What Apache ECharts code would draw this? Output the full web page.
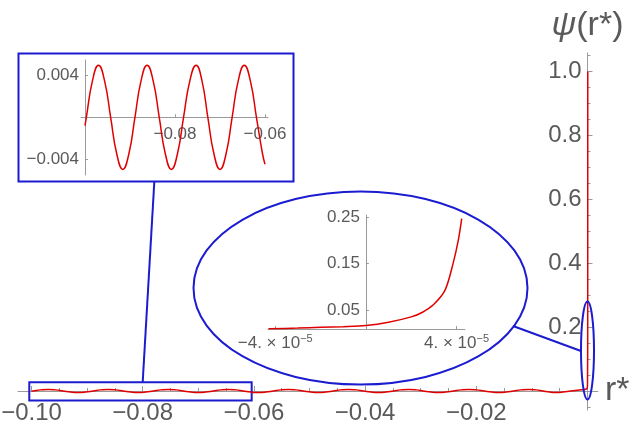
<!DOCTYPE html>
<html>
<head>
<meta charset="utf-8">
<script src="https://cdn.jsdelivr.net/npm/echarts@6/dist/echarts.min.js"></script>
<style>html,body{margin:0;padding:0;background:#fff}#c{width:640px;height:426px}</style>
</head>
<body>
<div id="c"></div>
<script>
// Main curve psi(r*): small oscillation for r* < 0, then steep rise at r* ~ 0
const mainX = [
  -0.1000, -0.0997, -0.09835, -0.0970, -0.09565, -0.0943, -0.09295, -0.0916, -0.09025,
  -0.0889, -0.08755, -0.0862, -0.08485, -0.0835, -0.08215, -0.0808, -0.07945,
  -0.0781, -0.0767, -0.0753, -0.0740, -0.0727, -0.07135, -0.0700, -0.06865,
  -0.0673, -0.06595, -0.0646, -0.06325, -0.0619, -0.06055, -0.0600, -0.0592, -0.05785,
  -0.0565, -0.05515, -0.0538, -0.05245, -0.0511, -0.04975, -0.0484, -0.04705,
  -0.0457, -0.04435, -0.0430, -0.04165, -0.0403, -0.03895, -0.0376, -0.03625,
  -0.0349, -0.03355, -0.0321, -0.03075, -0.0295, -0.02815, -0.0268, -0.02545,
  -0.0241, -0.02275, -0.0213, -0.01995, -0.0186, -0.01725, -0.0160, -0.01465,
  -0.0133, -0.01195, -0.0106, -0.00925, -0.0080, -0.0068, -0.0058, -0.0044,
  -0.0030, -0.0015, -0.0002, 0.0, 0.00004, 0.00005
];
const mainY = [
  -0.0008, 0.0, 0.0035, 0.005, 0.0035, 0.0, -0.0035, -0.005, -0.0035,
  0.0, 0.0035, 0.005, 0.0035, 0.0, -0.0035, -0.005, -0.0035,
  0.0, 0.0035, 0.005, 0.0035, 0.0, -0.0035, -0.005, -0.0035,
  0.0, 0.0035, 0.005, 0.0035, 0.0, -0.0035, -0.0045, -0.005, -0.0035,
  0.0, 0.0035, 0.005, 0.0035, 0.0, -0.0035, -0.005, -0.0035,
  0.0, 0.0035, 0.005, 0.0035, 0.0, -0.0035, -0.005, -0.0035,
  0.0, 0.0035, 0.005, 0.0035, 0.0, -0.0035, -0.005, -0.0035,
  0.0, 0.0035, 0.005, 0.0035, 0.0, -0.0035, -0.005, -0.0035,
  0.0, 0.0035, 0.005, 0.0035, 0.0, -0.0035, -0.005, -0.0035,
  0.0, 0.003, 0.006, 0.015, 0.22, 1.0
];
// Zoomed region near r* = 0
const zoomX = [-4.3e-5, -3e-5, -2e-5, -1e-5, 0, 1e-5, 2e-5, 2.5e-5, 3e-5, 3.5e-5, 3.85e-5, 4.08e-5, 4.23e-5];
const zoomY = [0.0095, 0.011, 0.0125, 0.014, 0.0165, 0.0235, 0.035, 0.045, 0.062, 0.093, 0.15, 0.20, 0.246];

// Tick labels
const mainXLabels = [-0.10, -0.08, -0.06, -0.04, -0.02];
const mainYLabels = [0.2, 0.4, 0.6, 0.8, 1.0];
const inset1XLabels = [-0.08, -0.06];
const inset1YLabels = [-0.004, 0.004];
const inset2XLabels = [-4e-5, 4e-5];
const inset2YLabels = [0.05, 0.15, 0.25];

const mainXMinor = [];
for (let i = -20; i <= 0; i++) mainXMinor.push(+(i * 0.005).toFixed(3));
const mainXMajor = [-0.10, -0.08, -0.06, -0.04, -0.02, 0];
const mainYMinor = [];
for (let i = -1; i <= 21; i++) mainYMinor.push(+(i * 0.05).toFixed(2));
const mainYMajor = [0, 0.2, 0.4, 0.6, 0.8, 1.0];

const FONT = 'Liberation Sans';
const TXT = '#5a5a5a';
const AX = '#9a9a9a';
const RED = '#e00000';
const BLUE = '#1b1bd0';
const minus = s => s.replace('-', '\u2212');

const mainData = mainX.map((x, i) => [x, mainY[i]]);
const inset1Data = mainData.filter(p => p[0] <= -0.06 + 1e-9);
const inset2Data = zoomX.map((x, i) => [x, zoomY[i]]);

const MX = [-0.10243, 0.00189], MY = [-0.0595, 1.058];
const AX1 = [-0.10089, -0.05933], AY1 = [-0.00554, 0.0055];
const AX2 = [-4.32e-5, 4.375e-5], AY2 = [0.009, 0.254];

const hidden = (gi) => ({type: 'value', gridIndex: gi, show: false, min: 0, max: 1});
const lbl = (fs) => ({fontSize: fs, fontFamily: FONT, color: TXT});
const OB = {outerBoundsMode: 'none', containLabel: false};

const option = {
  animation: false,
  backgroundColor: '#fff',
  grid: [
    Object.assign({left: 18, right: 42, top: 53, bottom: 16}, OB),          // 0 main
    Object.assign({left: 81, width: 187, top: 60, height: 115}, OB),        // 1 inset 1
    Object.assign({left: 268, width: 197, top: 215, height: 114}, OB),      // 2 inset 2
    Object.assign({left: 18, right: 42, top: 53, bottom: 35}, OB),          // 3 main x labels
    Object.assign({left: 587.5, right: 42, top: 53, bottom: 16}, OB),       // 4 main y labels
    Object.assign({left: 81, width: 187, top: 60, height: 57.3}, OB),       // 5 inset1 x labels
    Object.assign({left: 366, width: 99, top: 215, height: 114}, OB)        // 6 inset2 y labels
  ],
  xAxis: [
    {type: 'value', gridIndex: 0, min: MX[0], max: MX[1],
     axisLine: {show: true, onZero: true, onZeroAxisIndex: 0, lineStyle: {color: AX, width: 1}},
     axisTick: {show: true, inside: true, length: 3, customValues: mainXMinor, lineStyle: {color: AX}},
     axisLabel: {show: false}, splitLine: {show: false},
     name: 'r*', nameLocation: 'end', nameGap: 7, nameMoveOverlap: false,
     nameTextStyle: {fontSize: 34, fontFamily: FONT, color: TXT, verticalAlign: 'middle', padding: [8, 0, 0, 0]}},
    {type: 'value', gridIndex: 0, min: MX[0], max: MX[1], position: 'top',
     axisLine: {show: false, onZero: true, onZeroAxisIndex: 0},
     axisTick: {show: true, length: 5, customValues: mainXMajor, lineStyle: {color: AX}},
     axisLabel: {show: false}, splitLine: {show: false}},
    {type: 'value', gridIndex: 1, min: AX1[0], max: AX1[1],
     axisLine: {show: true, onZero: true, lineStyle: {color: AX, width: 1}},
     axisTick: {show: true, inside: true, length: 3, customValues: inset1XLabels, lineStyle: {color: AX}},
     axisLabel: {show: false}, splitLine: {show: false}},
    {type: 'value', gridIndex: 2, min: AX2[0], max: AX2[1],
     axisLine: {show: true, onZero: false, lineStyle: {color: AX, width: 1}},
     axisTick: {show: true, inside: true, length: 3, customValues: inset2XLabels, lineStyle: {color: AX}},
     axisLabel: {show: true, customValues: inset2XLabels, margin: 4,
                 formatter: v => { const m = Math.round(v / 1e-5); return '{m|' + (m < 0 ? '\u2212' : '') + Math.abs(m) + '. \u00d7 10}{s|\u22125}'; },
                 rich: {m: {fontSize: 17, fontFamily: FONT, color: TXT, lineHeight: 21},
                        s: {fontSize: 11, fontFamily: FONT, color: TXT, verticalAlign: 'top', lineHeight: 12}}},
     splitLine: {show: false}},
    {type: 'value', gridIndex: 3, min: MX[0], max: MX[1],
     axisLine: {show: false}, axisTick: {show: false}, splitLine: {show: false},
     axisLabel: Object.assign({show: true, customValues: mainXLabels, margin: 10,
                 formatter: v => minus(v.toFixed(2))}, lbl(24))},
    hidden(4),
    {type: 'value', gridIndex: 5, min: AX1[0], max: AX1[1],
     axisLine: {show: false}, axisTick: {show: false}, splitLine: {show: false},
     axisLabel: Object.assign({show: true, customValues: inset1XLabels, margin: 9,
                 formatter: v => minus(v.toFixed(2))}, lbl(17))},
    hidden(6)
  ],
  yAxis: [
    {type: 'value', gridIndex: 0, min: MY[0], max: MY[1],
     axisLine: {show: true, onZero: true, onZeroAxisIndex: 0, lineStyle: {color: AX, width: 1}},
     axisTick: {show: true, inside: true, length: 3, customValues: mainYMinor, lineStyle: {color: AX}},
     axisLabel: {show: false}, splitLine: {show: false},
     name: '{i|\u03c8}(r*)', nameLocation: 'end', nameGap: 10, nameMoveOverlap: false,
     nameTextStyle: {fontSize: 34, fontFamily: FONT, color: TXT, align: 'center',
                     rich: {i: {fontSize: 34, fontFamily: FONT, color: TXT, fontStyle: 'italic'}}}},
    {type: 'value', gridIndex: 0, min: MY[0], max: MY[1], position: 'right',
     axisLine: {show: false, onZero: true, onZeroAxisIndex: 0},
     axisTick: {show: true, length: 5, customValues: mainYMajor, lineStyle: {color: AX}},
     axisLabel: {show: false}, splitLine: {show: false}},
    {type: 'value', gridIndex: 1, min: AY1[0], max: AY1[1], offset: -4,
     axisLine: {show: true, onZero: false, lineStyle: {color: AX, width: 1}},
     axisTick: {show: true, inside: true, length: 3, customValues: inset1YLabels, lineStyle: {color: AX}},
     axisLabel: Object.assign({show: true, customValues: inset1YLabels, margin: 6,
                 formatter: v => minus(v.toFixed(3))}, lbl(17)),
     splitLine: {show: false}},
    {type: 'value', gridIndex: 2, min: AY2[0], max: AY2[1],
     axisLine: {show: true, onZero: true, lineStyle: {color: AX, width: 1}},
     axisTick: {show: true, inside: true, length: 3, customValues: inset2YLabels, lineStyle: {color: AX}},
     axisLabel: {show: false}, splitLine: {show: false}},
    hidden(3),
    {type: 'value', gridIndex: 4, min: MY[0], max: MY[1],
     axisLine: {show: false}, axisTick: {show: false}, splitLine: {show: false},
     axisLabel: Object.assign({show: true, customValues: mainYLabels, margin: 6,
                 formatter: v => v.toFixed(1)}, lbl(24))},
    hidden(5),
    {type: 'value', gridIndex: 6, min: AY2[0], max: AY2[1],
     axisLine: {show: false}, axisTick: {show: false}, splitLine: {show: false},
     axisLabel: Object.assign({show: true, customValues: inset2YLabels, margin: 6,
                 formatter: v => v.toFixed(2)}, lbl(17))}
  ],
  series: [
    {type: 'line', xAxisIndex: 0, yAxisIndex: 0, data: mainData, showSymbol: false, symbol: 'none',
     smooth: 0.5, lineStyle: {color: RED, width: 1.5},
     markArea: {silent: true, itemStyle: {color: 'rgba(0,0,0,0)', borderColor: BLUE, borderWidth: 2},
                data: [[{xAxis: -0.1004, yAxis: 0.027}, {xAxis: -0.0604, yAxis: -0.030}]]}},
    {type: 'line', xAxisIndex: 2, yAxisIndex: 2, data: inset1Data, showSymbol: false, symbol: 'none',
     smooth: 0.5, lineStyle: {color: RED, width: 1.5}},
    {type: 'line', xAxisIndex: 3, yAxisIndex: 3, data: inset2Data, showSymbol: false, symbol: 'none',
     smooth: 0.3, lineStyle: {color: RED, width: 1.5}}
  ],
  graphic: [
    {type: 'rect', z: 5, shape: {x: 18.5, y: 53.5, width: 275, height: 128}, style: {fill: 'none', stroke: BLUE, lineWidth: 2}},
    {type: 'line', z: 5, shape: {x1: 142.7, y1: 382, x2: 154.3, y2: 182}, style: {stroke: BLUE, lineWidth: 2}},
    {type: 'ellipse', z: 5, shape: {cx: 360.5, cy: 288, rx: 167, ry: 96.5}, style: {fill: 'none', stroke: BLUE, lineWidth: 2}},
    {type: 'ellipse', z: 5, shape: {cx: 587.5, cy: 350.5, rx: 6.5, ry: 49}, style: {fill: 'none', stroke: BLUE, lineWidth: 2}},
    {type: 'line', z: 5, shape: {x1: 513, y1: 326, x2: 581, y2: 351}, style: {stroke: BLUE, lineWidth: 2}}
  ]
};
const chart = echarts.init(document.getElementById('c'), null, {renderer: 'canvas'});
chart.setOption(option);
</script>
</body>
</html>
